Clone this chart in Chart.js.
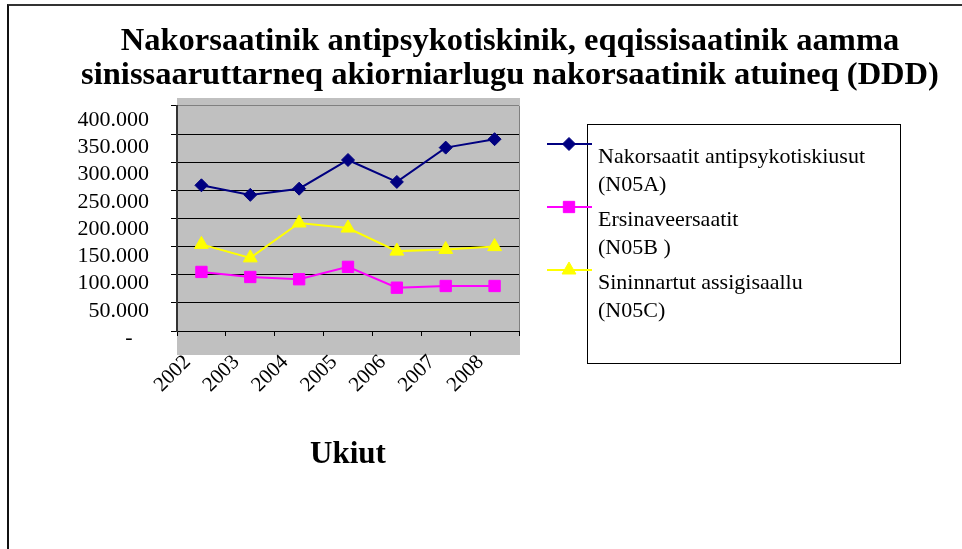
<!DOCTYPE html>
<html>
<head>
<meta charset="utf-8">
<script src="https://cdn.jsdelivr.net/npm/chart.js@4/dist/chart.umd.min.js"></script>
<style>
html,body{margin:0;padding:0;background:#fff;}
#wrap{position:relative;width:962px;height:549px;overflow:hidden;background:#fff;}
#c{position:absolute;left:0;top:0;}
#frame{position:absolute;left:7px;top:4px;width:2000px;height:2000px;border-left:2px solid #111;border-top:2px solid #333;pointer-events:none;}
</style>
</head>
<body>
<div id="wrap"><canvas id="c" width="962" height="549"></canvas><div id="frame"></div></div>
<script>
// ---- data ----
const categories = ['2002', '2003', '2004', '2005', '2006', '2007', '2008'];
const seriesNames = [
  ['Nakorsaatit antipsykotiskiusut', '(N05A)'],
  ['Ersinaveersaatit', '(N05B )'],
  ['Sininnartut assigisaallu', '(N05C)']
];
const antipsychoticsN05A = [259000, 242000, 253000, 304000, 265000, 326000, 341000];
const anxiolyticsN05B   = [105000, 96000, 92000, 114000, 77000, 80000, 80000];
const hypnoticsN05C     = [154000, 130000, 192000, 183000, 142000, 145000, 150000];
const yTickValues = [0, 50000, 100000, 150000, 200000, 250000, 300000, 350000, 400000];
const yTickLabels = ['-   ', '50.000', '100.000', '150.000', '200.000', '250.000', '300.000', '350.000', '400.000'];
const titleLines = [
  'Nakorsaatinik antipsykotiskinik, eqqissisaatinik aamma',
  'sinissaaruttarneq akiorniarlugu nakorsaatinik atuineq (DDD)'
];
const xAxisTitle = 'Ukiut';

// ---- styling ----
const FONT = "'Liberation Serif', 'Times New Roman', serif";

const plotBackground = {
  id: 'plotBackground',
  beforeDraw(chart) {
    const a = chart.chartArea, ctx = chart.ctx;
    ctx.save();
    ctx.fillStyle = '#c0c0c0';
    ctx.fillRect(a.left, a.top - 8, a.right - a.left + 1, a.bottom - a.top + 32);
    ctx.restore();
  }
};

function markerPath(ctx, style, r, x, y) {
  ctx.beginPath();
  if (style === 'rectRot') {
    ctx.moveTo(x, y - r); ctx.lineTo(x + r, y); ctx.lineTo(x, y + r); ctx.lineTo(x - r, y);
  } else if (style === 'rect') {
    const s = r * Math.SQRT1_2;
    ctx.rect(x - s, y - s, 2 * s, 2 * s);
  } else {
    for (let k = 0; k < 3; k++) {
      const ang = k * 2 * Math.PI / 3;
      const px = x + Math.sin(ang) * r, py = y - Math.cos(ang) * r;
      if (k === 0) ctx.moveTo(px, py); else ctx.lineTo(px, py);
    }
  }
  ctx.closePath();
}

const sideLegend = {
  id: 'sideLegend',
  afterDraw(chart) {
    const a = chart.chartArea, ctx = chart.ctx;
    ctx.save();
    ctx.strokeStyle = '#000';
    ctx.lineWidth = 1;
    ctx.strokeRect(Math.round(a.right + 68) + 0.5, Math.round(a.top + 18) + 0.5, 313, 239);
    chart.data.datasets.forEach((ds, i) => {
      const y = a.top + 38 + i * 63;
      ctx.strokeStyle = ds.borderColor;
      ctx.lineWidth = 2;
      ctx.beginPath();
      ctx.moveTo(a.right + 28, y);
      ctx.lineTo(a.right + 73, y);
      ctx.stroke();
      ctx.fillStyle = ds.backgroundColor;
      ctx.lineWidth = 1;
      markerPath(ctx, ds.pointStyle, ds.pointRadius, a.right + 50, y);
      ctx.fill();
      ctx.stroke();
      ctx.fillStyle = '#000';
      ctx.font = '22px ' + FONT;
      ctx.textAlign = 'left';
      ctx.textBaseline = 'middle';
      const lines = seriesNames[i];
      ctx.fillText(lines[0], a.right + 79, y + 13);
      ctx.fillText(lines[1], a.right + 79, y + 41);
    });
    ctx.restore();
  }
};

function lineSet(name, data, color, style, radius) {
  return {
    label: name.join(' '),
    data: data,
    borderColor: color,
    backgroundColor: color,
    borderWidth: 2,
    pointStyle: style,
    pointRadius: radius,
    pointBorderWidth: 1,
    pointBackgroundColor: color,
    pointBorderColor: color,
    tension: 0,
    yAxisID: 'y'
  };
}

new Chart(document.getElementById('c'), {
  type: 'line',
  data: {
    labels: categories,
    datasets: [
      lineSet(seriesNames[0], antipsychoticsN05A, '#000080', 'rectRot', 6.5),
      lineSet(seriesNames[1], anxiolyticsN05B, '#FF00FF', 'rect', 8),
      lineSet(seriesNames[2], hypnoticsN05C, '#FFFF00', 'triangle', 8)
    ]
  },
  options: {
    responsive: false,
    animation: false,
    devicePixelRatio: 1,
    layout: { padding: { left: 58, right: 0, top: 0, bottom: 0 } },
    plugins: {
      legend: { display: false },
      tooltip: { enabled: false },
      title: {
        display: true,
        text: titleLines,
        color: '#000',
        font: { family: FONT, size: 32.5, weight: 'bold', lineHeight: 1.046 },
        padding: { top: 25, bottom: 13 }
      }
    },
    scales: {
      x: {
        type: 'category',
        offset: true,
        grid: {
          offset: true,
          drawOnChartArea: true,
          color: (c) => (c.type === 'tick' ? 'rgba(0,0,0,0)' : '#808080'),
          tickColor: '#000',
          tickLength: 5,
          lineWidth: 1
        },
        border: { color: '#000', width: 1 },
        ticks: {
          color: '#000',
          font: { family: FONT, size: 21 },
          minRotation: 45,
          maxRotation: 45,
          autoSkip: false,
          labelOffset: -14,
          padding: 14
        },
        title: {
          display: true,
          text: xAxisTitle,
          color: '#000',
          font: { family: FONT, size: 31, weight: 'bold' },
          padding: { top: 0, bottom: 75 }
        },
        afterFit: (s) => { s.height = 218; }
      },
      y: {
        type: 'linear',
        position: 'left',
        weight: 0,
        min: 0,
        max: 400000,
        ticks: { stepSize: 50000, display: false },
        grid: {
          color: (c) => (c.tick && c.tick.value === 400000 ? '#808080' : '#000'),
          tickColor: '#000',
          tickLength: 6,
          lineWidth: 1
        },
        border: { color: '#333', width: 2 },
        afterFit: (s) => { s.width = 6; }
      },
      yl: {
        type: 'linear',
        position: 'left',
        weight: 1,
        min: 12840,
        max: 425690,
        grid: { display: false, drawTicks: false },
        border: { display: false },
        ticks: {
          autoSkip: false,
          color: '#000',
          padding: 22,
          font: { family: FONT, size: 22 },
          callback: (v, i) => yTickLabels[yTickValues.indexOf(v)]
        },
        afterBuildTicks: (s) => { s.ticks = yTickValues.map((v) => ({ value: v })); },
        afterFit: (s) => { s.width = 113; }
      },
      yr: {
        type: 'linear',
        position: 'right',
        display: true,
        grid: { display: false, drawTicks: false },
        border: { display: false },
        ticks: { display: false },
        afterFit: (s) => { s.width = 443; }
      }
    }
  },
  plugins: [plotBackground, sideLegend]
});
</script>
</body>
</html>
